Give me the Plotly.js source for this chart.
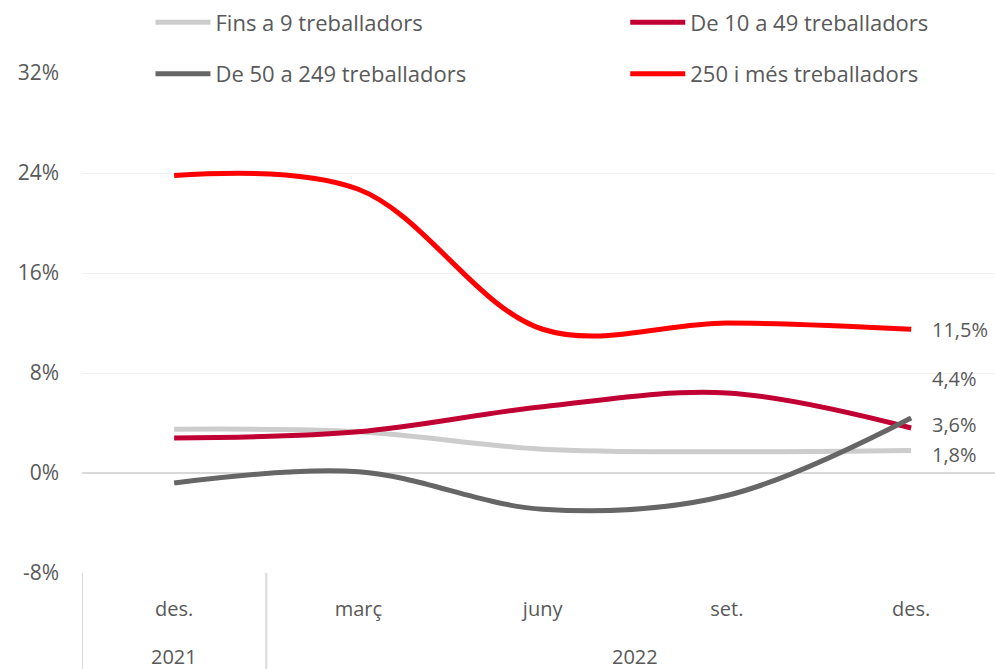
<!DOCTYPE html>
<html>
<head>
<meta charset="utf-8">
<script src="https://cdn.plot.ly/plotly-3.0.1.min.js"></script>
<style>html,body{margin:0;padding:0;background:#fff;}#chart{width:995px;height:669px;}</style>
</head>
<body>
<div id="chart"></div>
<script>
// Data
var years = ['2021', '2022', '2022', '2022', '2022'];
var months = ['des.', 'març', 'juny', 'set.', 'des.'];
var seriesNames = ['Fins a 9 treballadors', 'De 10 a 49 treballadors', 'De 50 a 249 treballadors', '250 i més treballadors'];
var fins9 = [3.5, 3.3, 1.9, 1.7, 1.8];
var de10a49 = [2.8, 3.3, 5.3, 6.4, 3.6];
var de50a249 = [-0.8, 0.1, -2.9, -1.8, 4.4];
var de250 = [23.8, 22.7, 11.5, 12.0, 11.5];
var yTicks = [-8, 0, 8, 16, 24, 32];

// Styles
var colors = ['#cccccc', '#c00033', '#666666', '#ff0000'];
var legendIds = ['legend', 'legend2', 'legend', 'legend2'];
var labelYShift = [-4, 4, 40, 0];
var allSeries = [fins9, de10a49, de50a249, de250];
var fontFam = '"Open Sans", Lato, sans-serif';
var textColor = '#595959';

var xIdx = months.map(function (m, i) { return i; });

var traces = allSeries.map(function (vals, i) {
  return {
    type: 'scatter', mode: 'lines',
    x: xIdx, y: vals,
    name: seriesNames[i],
    legend: legendIds[i],
    legendgroup: 'g' + i,
    line: {color: colors[i], width: 5, shape: 'spline', smoothing: 1},
    hoverinfo: 'skip'
  };
});

var annotations = allSeries.map(function (vals, i) {
  var v = vals[vals.length - 1];
  return {
    x: xIdx[vals.length - 1], y: v, xref: 'x', yref: 'y',
    text: v.toFixed(1).replace('.', ',') + '%',
    showarrow: false, xanchor: 'left', yanchor: 'middle',
    xshift: 19, yshift: labelYShift[i],
    font: {family: fontFam, size: 20, color: textColor}
  };
});

// Year group labels and dividers (built from the years array)
var shapes = [];
var groups = [];
years.forEach(function (y, i) {
  if (!groups.length || groups[groups.length - 1].year !== y) {
    groups.push({year: y, start: i, end: i});
  } else {
    groups[groups.length - 1].end = i;
  }
});
groups.forEach(function (g) {
  annotations.push({
    x: (g.start + g.end) / 2, y: -0.166, xref: 'x', yref: 'paper',
    text: g.year, showarrow: false, xanchor: 'center', yanchor: 'middle',
    font: {family: fontFam, size: 20, color: textColor}
  });
  shapes.push({
    type: 'line', xref: 'x', yref: 'paper',
    x0: g.start - 0.5, x1: g.start - 0.5, y0: 0, y1: -0.2,
    line: {color: '#d9d9d9', width: 2}
  });
});

var legendFont = {family: fontFam, size: 22, color: textColor};

var layout = {
  width: 995, height: 669,
  margin: {l: 82, r: 0, t: 73, b: 96, autoexpand: false},
  paper_bgcolor: '#ffffff', plot_bgcolor: '#ffffff',
  font: {family: fontFam, size: 20, color: textColor},
  showlegend: true,
  legend: {
    x: 0.075, xanchor: 'left', y: 0.998, yref: 'container', yanchor: 'top',
    orientation: 'v', traceorder: 'grouped', tracegroupgap: 20,
    font: legendFont, itemwidth: 55, bgcolor: 'rgba(0,0,0,0)'
  },
  legend2: {
    x: 0.595, xanchor: 'left', y: 0.998, yref: 'container', yanchor: 'top',
    orientation: 'v', traceorder: 'grouped', tracegroupgap: 20,
    font: legendFont, itemwidth: 55, bgcolor: 'rgba(0,0,0,0)'
  },
  xaxis: {
    type: 'linear',
    range: [-0.5, 4.455],
    tickmode: 'array', tickvals: xIdx, ticktext: months,
    showgrid: false, zeroline: false, showline: false,
    ticks: '', ticklabelstandoff: 22,
    tickfont: {family: fontFam, size: 20, color: textColor}
  },
  yaxis: {
    range: [-8, 32],
    tickmode: 'array', tickvals: yTicks,
    ticktext: yTicks.map(function (v) { return v + '%'; }),
    showgrid: true, gridcolor: '#f0f0f0', gridwidth: 1,
    zeroline: true, zerolinecolor: '#d9d9d9', zerolinewidth: 2,
    showline: false, ticks: '',
    ticklabelstandoff: 22,
    tickfont: {family: fontFam, size: 21, color: textColor}
  },
  annotations: annotations,
  shapes: shapes
};

Plotly.newPlot('chart', traces, layout, {displayModeBar: false, staticPlot: true});
</script>
</body>
</html>
